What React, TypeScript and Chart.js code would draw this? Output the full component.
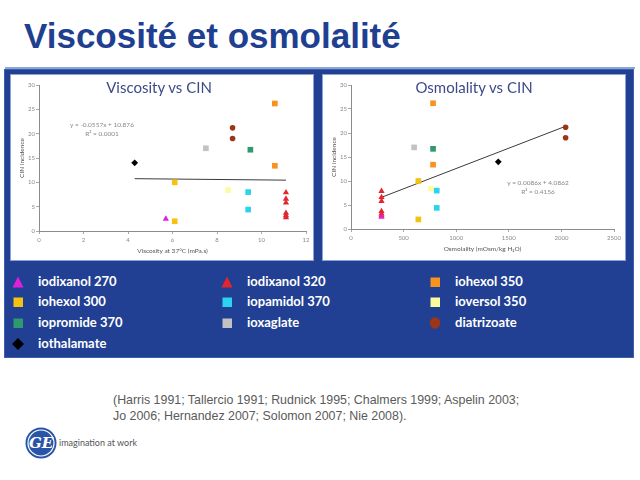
import React, { useEffect, useRef } from 'react';
import { Chart, registerables } from 'chart.js';

Chart.register(...registerables);

// ---- data ----
const AGENTS = ['iodixanol 270', 'iodixanol 320', 'iohexol 350', 'iohexol 300', 'iopamidol 370', 'ioversol 350', 'iopromide 370', 'ioxaglate', 'diatrizoate', 'iothalamate'];
const AGENT_COLORS = ['#e020d8', '#e3262e', '#f7931e', '#f5c20f', '#2cd3f0', '#fbfba0', '#2f9a6b', '#c2c2c2', '#9b3619', '#000000'];
const AGENT_SHAPES = ['triangle', 'triangle', 'rect', 'rect', 'rect', 'rect', 'rect', 'rect', 'circle', 'rectRot'];
const VISCOSITY = [5.7, 11.1, 10.6, 6.1, 9.4, 8.5, 9.5, 7.5, 8.7, 4.3];
const OSMOLALITY = [290, 290, 780, 640, 815, 760, 780, 600, 2040, 1400];
const CIN = [[2.5], [7.9, 6.6, 5.8, 3.7, 3.2, 2.8], [26.2, 13.4], [10.0, 2.0], [8.0, 4.4], [8.4], [16.7], [17.0], [21.2, 19.0], [14.0]];

const VISC_TREND_X = [4.3, 11.1];
const VISC_TREND_Y = [10.75, 10.45];
const OSM_TREND_X = [290, 2040];
const OSM_TREND_Y = [6.6, 21.4];

const VISC_EQ = ['y = -0.0557x + 10.876', 'R² = 0.0001'];
const OSM_EQ = ['y = 0.0086x + 4.0862', 'R² = 0.4156'];

const Y_MAX = 30;
const Y_STEP = 5;
const VISC_X_MAX = 12;
const VISC_X_STEP = 2;
const OSM_X_MAX = 2500;
const OSM_X_STEP = 500;

const CITATION = [
  '(Harris 1991; Tallercio 1991; Rudnick 1995; Chalmers 1999; Aspelin 2003;',
  'Jo 2006; Hernandez 2007; Solomon 2007; Nie 2008).',
];

const BLUE = '#213f93';

function radiusFor(shape: string) {
  if (shape === 'rect') return 4;
  if (shape === 'triangle') return 3.6;
  if (shape === 'rectRot') return 3.4;
  return 2.8;
}

type PanelProps = {
  xs: number[];
  trendX: number[];
  trendY: number[];
  xMax: number;
  xStep: number;
  xTitle: string;
  padRight: number;
  xHeight: number;
  xTitlePad: number;
};

function ScatterPanel(p: PanelProps) {
  const ref = useRef<HTMLCanvasElement>(null);
  useEffect(() => {
    const datasets: any[] = [];
    datasets.push({
      type: 'line',
      data: p.trendX.map((x, i) => ({ x, y: p.trendY[i] })),
      borderColor: '#3a3a3a',
      borderWidth: 1,
      pointRadius: 0,
      fill: false,
      order: 20,
    });
    AGENTS.forEach((name, i) => {
      datasets.push({
        type: 'scatter',
        label: name,
        data: CIN[i].map((y) => ({ x: p.xs[i], y })),
        pointStyle: AGENT_SHAPES[i],
        pointRadius: radiusFor(AGENT_SHAPES[i]),
        backgroundColor: AGENT_COLORS[i],
        borderColor: AGENT_COLORS[i],
        borderWidth: 0,
        order: 1,
      });
    });
    const tickFont = { family: 'Lato, "DejaVu Sans", sans-serif', size: 6 };
    const chart = new Chart(ref.current!, {
      type: 'scatter',
      data: { datasets },
      options: {
        responsive: false,
        animation: false,
        layout: { padding: { left: 0, top: 10, right: p.padRight, bottom: 0 } },
        plugins: { legend: { display: false }, tooltip: { enabled: false }, title: { display: false } },
        scales: {
          x: {
            type: 'linear',
            min: 0,
            max: p.xMax,
            ticks: { stepSize: p.xStep, font: tickFont, color: '#8a8a8a', padding: 2, callback: (v: any) => String(v) },
            grid: { drawOnChartArea: false, drawTicks: true, tickLength: 3, color: '#a8a8a8' },
            border: { color: '#8c8c8c', width: 1 },
            title: {
              display: true,
              text: p.xTitle,
              font: { family: 'Lato, sans-serif', size: 6.5 },
              color: '#555',
              padding: { top: 0, bottom: p.xTitlePad },
            },
            afterFit: (s: any) => {
              s.height = p.xHeight;
            },
          },
          y: {
            type: 'linear',
            min: 0,
            max: Y_MAX,
            ticks: { stepSize: Y_STEP, font: tickFont, color: '#8a8a8a', padding: 1, callback: (v: any) => String(v) },
            grid: { drawOnChartArea: false, drawTicks: true, tickLength: 3, color: '#a8a8a8' },
            border: { color: '#8c8c8c', width: 1 },
            title: {
              display: true,
              text: 'CIN incidence',
              font: { family: 'Lato, sans-serif', size: 6.5 },
              color: '#555',
              padding: { top: 7, bottom: 0 },
            },
            afterFit: (s: any) => {
              s.width = 28;
            },
          },
        },
      } as any,
    });
    return () => chart.destroy();
  }, []);
  return <canvas ref={ref} width={302} height={185} style={{ display: 'block' }} />;
}

function Marker({ shape, color }: { shape: string; color: string }) {
  let el: any;
  if (shape === 'triangle') el = <polygon points="7,1.5 12.5,12.5 1.5,12.5" fill={color} />;
  else if (shape === 'rect') el = <rect x="2.5" y="2.5" width="9.5" height="9.5" fill={color} />;
  else if (shape === 'circle') el = <polygon points="5,1.5 9,1.5 12,4.5 12,9 9,12.5 5,12.5 2,9 2,4.5" fill={color} />;
  else el = <polygon points="7,1 13,7 7,13 1,7" fill={color} />;
  return (
    <svg width="14" height="14" style={{ position: 'absolute', left: 0, top: 0 }}>
      {el}
    </svg>
  );
}

const LEGEND_COL_X = [11, 220, 428];
const LEGEND_ROW_Y = [275, 295, 316, 337];

export default function App() {
  const abs = (l: number, t: number, w?: number, h?: number): React.CSSProperties => ({
    position: 'absolute',
    left: l,
    top: t,
    width: w,
    height: h,
  });
  const panelStyle = (l: number): React.CSSProperties => ({
    ...abs(l, 75, 302, 185),
    background: '#fff',
    boxShadow: '0 0 0 1px #8aa2d6',
  });
  return (
    <div style={{ position: 'absolute', left: 0, top: 0, width: 640, height: 480, background: '#fff', overflow: 'hidden', fontFamily: '"Liberation Sans", Arial, sans-serif' }}>
      <div style={{ ...abs(24, 16), fontSize: 35, lineHeight: '40px', fontWeight: 'bold', color: '#1f3f91', whiteSpace: 'nowrap' }}>
        Viscosité et osmolalité
      </div>
      <div style={{ ...abs(5, 67, 630, 1.5), background: '#8aa6d8' }} />
      <div style={{ ...abs(4, 69, 630, 289), background: BLUE, boxShadow: 'inset 0 0 0 1px #3e5fae' }} />

      <div style={panelStyle(11)}>
        <ScatterPanel xs={VISCOSITY} trendX={VISC_TREND_X} trendY={VISC_TREND_Y} xMax={VISC_X_MAX} xStep={VISC_X_STEP} xTitle="Viscosity at 37°C (mPa.s)" padRight={7} xHeight={29} xTitlePad={5} />
        <div style={{ ...abs(0, 3, 296), textAlign: 'center', fontFamily: 'Lato, sans-serif', fontSize: 15, color: '#3c4a8a' }}>Viscosity vs CIN</div>
        <div style={{ ...abs(56, 45, 70), textAlign: 'center', fontFamily: 'Lato, sans-serif', fontSize: 6.5, color: '#888', lineHeight: '9px' }}>
          {VISC_EQ.map((t) => (
            <div key={t}>{t}</div>
          ))}
        </div>
      </div>

      <div style={panelStyle(323)}>
        <ScatterPanel xs={OSMOLALITY} trendX={OSM_TREND_X} trendY={OSM_TREND_Y} xMax={OSM_X_MAX} xStep={OSM_X_STEP} xTitle="Osmolality (mOsm/kg H₂O)" padRight={11} xHeight={31} xTitlePad={7} />
        <div style={{ ...abs(0, 3, 302), textAlign: 'center', fontFamily: 'Lato, sans-serif', fontSize: 15, color: '#3c4a8a' }}>Osmolality vs CIN</div>
        <div style={{ ...abs(180, 103, 70), textAlign: 'center', fontFamily: 'Lato, sans-serif', fontSize: 6.5, color: '#888', lineHeight: '9px' }}>
          {OSM_EQ.map((t) => (
            <div key={t}>{t}</div>
          ))}
        </div>
      </div>

      {AGENTS.map((name, i) => {
        const col = i % 3;
        const row = Math.floor(i / 3);
        return (
          <div key={name} style={{ ...abs(LEGEND_COL_X[col], LEGEND_ROW_Y[row], 200, 14) }}>
            <Marker shape={AGENT_SHAPES[i]} color={AGENT_COLORS[i]} />
            <div style={{ ...abs(27, -2), fontFamily: 'Lato, sans-serif', fontWeight: 700, fontSize: 13, color: '#fff', whiteSpace: 'nowrap', lineHeight: '17px' }}>{name}</div>
          </div>
        );
      })}

      <div style={{ ...abs(113, 392), fontSize: 12.4, color: '#5a5a5a', lineHeight: '16px', whiteSpace: 'nowrap' }}>
        {CITATION.map((t) => (
          <div key={t}>{t}</div>
        ))}
      </div>

      <svg style={{ ...abs(25, 427, 32, 32) }} width="32" height="32">
        <circle cx="16" cy="16" r="15.5" fill="#2a54a6" />
        <circle cx="16" cy="16" r="13" fill="none" stroke="#fff" strokeWidth="1.2" />
        <text x="16" y="21" textAnchor="middle" fill="#fff" fontSize="15" fontStyle="italic" fontFamily="DejaVu Serif, serif" fontWeight="bold">GE</text>
      </svg>
      <div style={{ ...abs(59, 437), fontFamily: 'Lato, sans-serif', fontSize: 9, color: '#555', whiteSpace: 'nowrap' }}>imagination at work</div>
    </div>
  );
}
